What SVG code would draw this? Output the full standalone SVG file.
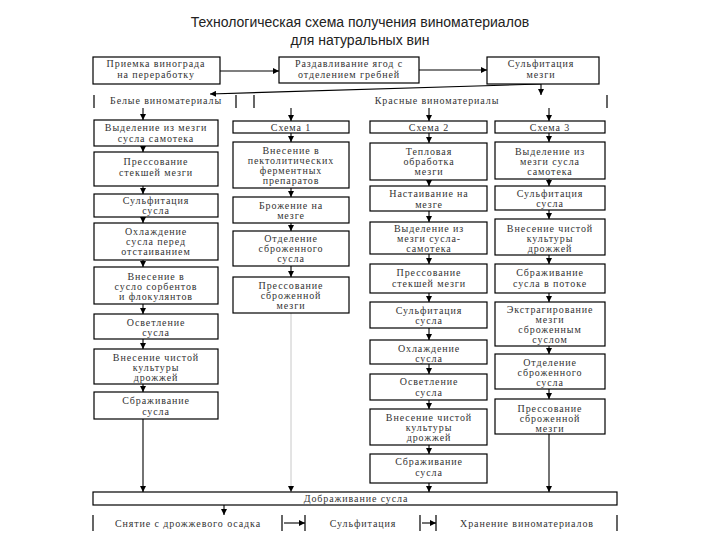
<svg xmlns="http://www.w3.org/2000/svg" width="720" height="540" viewBox="0 0 720 540">
<style>
.bx{fill:#fff;stroke:#000;stroke-width:1.2}
.bar{fill:none;stroke:#000;stroke-width:1.2}
.t{font-family:"Liberation Serif",serif;font-size:10px;letter-spacing:0.9px;fill:#333;text-anchor:middle}
.ttl{font-family:"Liberation Sans",Arial,sans-serif;font-size:14px;fill:#222;text-anchor:middle}
.c{fill:none;stroke:#000;stroke-width:1.1;marker-end:url(#ah)}
.cf{fill:none;stroke:#c8c8c8;stroke-width:1;marker-end:url(#ah)}
</style>
<defs>
<marker id="ah" markerUnits="userSpaceOnUse" markerWidth="6" markerHeight="6" refX="6" refY="3" orient="auto">
<path d="M0,0 L6,3 L0,6 z" fill="#000"/>
</marker>
</defs>
<rect width="720" height="540" fill="#fff"/>
<g id="title">
<text class="ttl" x="360" y="27">Технологическая схема получения виноматериалов</text>
<text class="ttl" x="360" y="45">для натуральных вин</text>
</g>
<g id="connectors">
<path class="c" d="M220,71 H279"/>
<path class="c" d="M419,70 H487"/>
<path class="c" d="M541,84 L210,94"/>
<path class="c" d="M541,84 V95"/>
<path class="c" d="M143,108 V120"/>
<path class="c" d="M291,108 V121"/>
<path class="c" d="M429,108 V121"/>
<path class="c" d="M549,108 V121"/>
<path class="c" d="M143,146 V152"/>
<path class="c" d="M143,186 V194"/>
<path class="c" d="M143,217 V223"/>
<path class="c" d="M143,260 V267"/>
<path class="c" d="M143,304 V314"/>
<path class="c" d="M143,339 V349"/>
<path class="c" d="M143,384 V392"/>
<path class="c" d="M143,419 V492"/>
<path class="c" d="M291,133 V142"/>
<path class="c" d="M291,188 V197"/>
<path class="c" d="M291,223 V231"/>
<path class="c" d="M291,266 V277"/>
<path class="cf" d="M291,313 V492"/>
<path class="c" d="M429,133 V143"/>
<path class="c" d="M429,180 V186"/>
<path class="c" d="M429,211 V222"/>
<path class="c" d="M429,254 V264"/>
<path class="c" d="M429,293 V302"/>
<path class="c" d="M429,328 V340"/>
<path class="c" d="M429,364 V374"/>
<path class="c" d="M429,400 V409"/>
<path class="c" d="M429,445 V454"/>
<path class="c" d="M429,483 V492"/>
<path class="c" d="M549,133 V142"/>
<path class="c" d="M549,179 V186"/>
<path class="c" d="M549,210 V219"/>
<path class="c" d="M549,255 V264"/>
<path class="c" d="M549,293 V302"/>
<path class="c" d="M549,346 V354"/>
<path class="c" d="M549,389 V399"/>
<path class="c" d="M549,434 V492"/>
<path class="c" d="M224,505 V515"/>
<path class="c" d="M284,523 H305"/>
<path class="c" d="M422,523 H436"/>
</g>
<g id="n-priemka"><rect class="bx" x="93" y="57" width="127" height="27"/><text class="t" x="156" y="67">Приемка винограда</text><text class="t" x="156" y="78">на переработку</text></g>
<g id="n-razdavl"><rect class="bx" x="279" y="57" width="140" height="26"/><text class="t" x="349" y="67">Раздавливание ягод с</text><text class="t" x="349" y="78">отделением гребней</text></g>
<g id="n-sulf-mezgi"><rect class="bx" x="487" y="57" width="112" height="27"/><text class="t" x="541" y="67">Сульфитация</text><text class="t" x="541" y="78">мезги</text></g>
<g id="n-belye"><path class="bar" d="M94,95 V108 M236,95 V108"/><text class="t" x="166" y="104">Белые виноматериалы</text></g>
<g id="n-krasnye"><path class="bar" d="M254,95 V108 M607,95 V108"/><text class="t" x="437" y="104">Красные виноматериалы</text></g>
<g id="c1-1"><rect class="bx" x="94" y="120" width="124" height="26"/><text class="t" x="156" y="130.5">Выделение из мезги</text><text class="t" x="156" y="141.5">сусла самотека</text></g>
<g id="c1-2"><rect class="bx" x="94" y="152" width="124" height="34"/><text class="t" x="156" y="165">Прессование</text><text class="t" x="156" y="176">стекшей мезги</text></g>
<g id="c1-3"><rect class="bx" x="94" y="194" width="124" height="23"/><text class="t" x="156" y="203.5">Сульфитация</text><text class="t" x="156" y="214">сусла</text></g>
<g id="c1-4"><rect class="bx" x="94" y="223" width="124" height="37"/><text class="t" x="156" y="234.5">Охлаждение</text><text class="t" x="156" y="244.5">сусла перед</text><text class="t" x="156" y="254.5">отстаиванием</text></g>
<g id="c1-5"><rect class="bx" x="94" y="267" width="124" height="37"/><text class="t" x="156" y="279.5">Внесение в</text><text class="t" x="156" y="289.5">сусло сорбентов</text><text class="t" x="156" y="299.5">и флокулянтов</text></g>
<g id="c1-6"><rect class="bx" x="94" y="314" width="124" height="25"/><text class="t" x="156" y="325.5">Осветление</text><text class="t" x="156" y="335.5">сусла</text></g>
<g id="c1-7"><rect class="bx" x="94" y="349" width="124" height="35"/><text class="t" x="156" y="360.5">Внесение чистой</text><text class="t" x="156" y="370.5">культуры</text><text class="t" x="156" y="380.5">дрожжей</text></g>
<g id="c1-8"><rect class="bx" x="94" y="392" width="124" height="27"/><text class="t" x="156" y="403.5">Сбраживание</text><text class="t" x="156" y="414.5">сусла</text></g>
<g id="c2-1"><rect class="bx" x="233" y="121" width="116" height="12"/><text class="t" x="291" y="130.5">Схема 1</text></g>
<g id="c2-2"><rect class="bx" x="233" y="142" width="116" height="46"/><text class="t" x="291" y="153.5">Внесение в</text><text class="t" x="291" y="163.5">пектолитических</text><text class="t" x="291" y="173.5">ферментных</text><text class="t" x="291" y="183.5">препаратов</text></g>
<g id="c2-3"><rect class="bx" x="233" y="197" width="116" height="26"/><text class="t" x="291" y="208.5">Брожение на</text><text class="t" x="291" y="218.5">мезге</text></g>
<g id="c2-4"><rect class="bx" x="233" y="231" width="116" height="35"/><text class="t" x="291" y="242">Отделение</text><text class="t" x="291" y="252">сброженного</text><text class="t" x="291" y="262">сусла</text></g>
<g id="c2-5"><rect class="bx" x="233" y="277" width="116" height="36"/><text class="t" x="291" y="289">Прессование</text><text class="t" x="291" y="299">сброженной</text><text class="t" x="291" y="309">мезги</text></g>
<g id="c3-1"><rect class="bx" x="370" y="121" width="117" height="12"/><text class="t" x="429" y="130.5">Схема 2</text></g>
<g id="c3-2"><rect class="bx" x="370" y="143" width="117" height="37"/><text class="t" x="429" y="154.5">Тепловая</text><text class="t" x="429" y="164.5">обработка</text><text class="t" x="429" y="174.5">мезги</text></g>
<g id="c3-3"><rect class="bx" x="370" y="186" width="117" height="25"/><text class="t" x="429" y="196.5">Настаивание на</text><text class="t" x="429" y="207.5">мезге</text></g>
<g id="c3-4"><rect class="bx" x="370" y="222" width="117" height="32"/><text class="t" x="429" y="232">Выделение из</text><text class="t" x="429" y="242">мезги сусла-</text><text class="t" x="429" y="252">самотека</text></g>
<g id="c3-5"><rect class="bx" x="370" y="264" width="117" height="29"/><text class="t" x="429" y="275.5">Прессование</text><text class="t" x="429" y="286.5">стекшей мезги</text></g>
<g id="c3-6"><rect class="bx" x="370" y="302" width="117" height="26"/><text class="t" x="429" y="313.5">Сульфитация</text><text class="t" x="429" y="323.5">сусла</text></g>
<g id="c3-7"><rect class="bx" x="370" y="340" width="117" height="24"/><text class="t" x="429" y="351.5">Охлаждение</text><text class="t" x="429" y="361.5">сусла</text></g>
<g id="c3-8"><rect class="bx" x="370" y="374" width="117" height="26"/><text class="t" x="429" y="384.5">Осветление</text><text class="t" x="429" y="395.5">сусла</text></g>
<g id="c3-9"><rect class="bx" x="370" y="409" width="117" height="36"/><text class="t" x="429" y="420.5">Внесение чистой</text><text class="t" x="429" y="430.5">культуры</text><text class="t" x="429" y="440.5">дрожжей</text></g>
<g id="c3-10"><rect class="bx" x="370" y="454" width="117" height="29"/><text class="t" x="429" y="465">Сбраживание</text><text class="t" x="429" y="476">сусла</text></g>
<g id="c4-1"><rect class="bx" x="495" y="121" width="110" height="12"/><text class="t" x="550" y="130.5">Схема 3</text></g>
<g id="c4-2"><rect class="bx" x="495" y="142" width="110" height="37"/><text class="t" x="550" y="154.5">Выделение из</text><text class="t" x="550" y="164.5">мезги сусла</text><text class="t" x="550" y="174.5">самотека</text></g>
<g id="c4-3"><rect class="bx" x="495" y="186" width="110" height="24"/><text class="t" x="550" y="196.5">Сульфитация</text><text class="t" x="550" y="206.5">сусла</text></g>
<g id="c4-4"><rect class="bx" x="495" y="219" width="110" height="36"/><text class="t" x="550" y="231.5">Внесение чистой</text><text class="t" x="550" y="241.5">культуры</text><text class="t" x="550" y="251.5">дрожжей</text></g>
<g id="c4-5"><rect class="bx" x="495" y="264" width="110" height="29"/><text class="t" x="550" y="275.5">Сбраживание</text><text class="t" x="550" y="286.5">сусла в потоке</text></g>
<g id="c4-6"><rect class="bx" x="495" y="302" width="110" height="44"/><text class="t" x="550" y="312.5">Экстрагирование</text><text class="t" x="550" y="322.5">мезги</text><text class="t" x="550" y="332.5">сброженным</text><text class="t" x="550" y="342.5">суслом</text></g>
<g id="c4-7"><rect class="bx" x="495" y="354" width="110" height="35"/><text class="t" x="550" y="365.5">Отделение</text><text class="t" x="550" y="375.5">сброженного</text><text class="t" x="550" y="385.5">сусла</text></g>
<g id="c4-8"><rect class="bx" x="495" y="399" width="110" height="35"/><text class="t" x="550" y="411.5">Прессование</text><text class="t" x="550" y="421.5">сброженной</text><text class="t" x="550" y="431.5">мезги</text></g>
<g id="n-dobrazh"><rect class="bx" x="93" y="492" width="524" height="13"/><text class="t" x="356" y="502">Дображивание сусла</text></g>
<g id="n-snyatie"><path class="bar" d="M93,515 V531 M282,515 V531"/><text class="t" x="188" y="527">Снятие с дрожжевого осадка</text></g>
<g id="n-sulfit"><path class="bar" d="M305,515 V531 M420,515 V531"/><text class="t" x="363" y="527">Сульфитация</text></g>
<g id="n-hranenie"><path class="bar" d="M436,515 V531 M617,515 V531"/><text class="t" x="527" y="527">Хранение виноматериалов</text></g>
</svg>
